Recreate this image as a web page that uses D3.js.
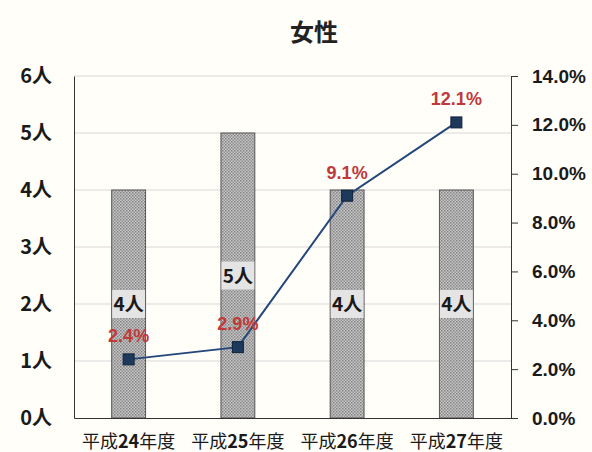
<!DOCTYPE html>
<html>
<head>
<meta charset="utf-8">
<script src="https://cdn.jsdelivr.net/npm/d3@7"></script>
<style>
  html, body { margin: 0; padding: 0; background: #fffef9; }
  svg { display: block; }
</style>
</head>
<body>
<script>
// Data: headcount (bars, left axis) and rate (line, right axis) by fiscal year
const years = ["24", "25", "26", "27"];
const people = [4, 5, 4, 4];
const rates = [2.4, 2.9, 9.1, 12.1];
const leftTicks = [0, 1, 2, 3, 4, 5, 6];
const rightTicks = [0, 2, 4, 6, 8, 10, 12, 14];
const title = "女性";

const W = 592, H = 452;
const m = { left: 74, right: 81, top: 76, bottom: 34 };

const svg = d3.select("body").append("svg")
  .attr("width", W).attr("height", H);

svg.append("rect").attr("width", W).attr("height", H).attr("fill", "#fffef9");

// dotted fill for the bars
const defs = svg.append("defs");
const pat = defs.append("pattern")
  .attr("id", "dots").attr("width", 3).attr("height", 3)
  .attr("patternUnits", "userSpaceOnUse");
pat.append("rect").attr("width", 3).attr("height", 3).attr("fill", "#c6c6c6");
pat.append("rect").attr("x", 0).attr("y", 0).attr("width", 1.5).attr("height", 1.5).attr("fill", "#848484");
pat.append("rect").attr("x", 1.5).attr("y", 1.5).attr("width", 1.5).attr("height", 1.5).attr("fill", "#939393");

const x = d3.scaleBand().domain(years)
  .range([m.left, W - m.right]).paddingInner(0.69).paddingOuter(0.345);
const yL = d3.scaleLinear().domain([0, 6]).range([H - m.bottom, m.top]);
const yR = d3.scaleLinear().domain([0, 14]).range([H - m.bottom, m.top]);

// title
svg.append("text")
  .attr("x", 314).attr("y", 41)
  .attr("text-anchor", "middle")
  .attr("font-family", "'Noto Sans CJK JP', sans-serif")
  .attr("font-size", 24).attr("font-weight", 600)
  .attr("fill", "#222")
  .text(title);

// horizontal gridlines
svg.append("g").selectAll("line")
  .data(leftTicks.filter(d => d > 0))
  .join("line")
  .attr("x1", m.left).attr("x2", W - m.right)
  .attr("y1", d => yL(d)).attr("y2", d => yL(d))
  .attr("stroke", "#d8d8d8").attr("stroke-width", 1);

// left axis
const gL = svg.append("g")
  .attr("transform", `translate(${m.left},0)`)
  .call(d3.axisLeft(yL).tickValues(leftTicks).tickSize(0).tickPadding(22)
    .tickFormat(d => d + "人"));
gL.select(".domain").attr("stroke", "#333");
gL.selectAll("text")
  .attr("font-family", "'Noto Sans CJK JP', sans-serif")
  .attr("font-size", 20).attr("font-weight", 700).attr("fill", "#1a1a1a");

// right axis
const gR = svg.append("g")
  .attr("transform", `translate(${W - m.right},0)`)
  .call(d3.axisRight(yR).tickValues(rightTicks).tickSize(7).tickPadding(14)
    .tickFormat(d => d.toFixed(1) + "%"));
gR.select(".domain").attr("stroke", "#333");
gR.selectAll(".tick line").attr("stroke", "#333");
gR.selectAll("text")
  .attr("font-family", "'Liberation Sans', sans-serif")
  .attr("font-size", 19).attr("font-weight", 700).attr("fill", "#1a1a1a");

// bars
svg.append("g").selectAll("rect")
  .data(years)
  .join("rect")
  .attr("x", d => x(d))
  .attr("y", (d, i) => yL(people[i]))
  .attr("width", x.bandwidth())
  .attr("height", (d, i) => yL(0) - yL(people[i]))
  .attr("fill", "url(#dots)")
  .attr("stroke", "#555").attr("stroke-width", 1);

// bottom axis
const gB = svg.append("g")
  .attr("transform", `translate(0,${H - m.bottom})`)
  .call(d3.axisBottom(x).tickSize(0).tickFormat(""));
gB.select(".domain").attr("stroke", "#333");

// category labels with bold digits
const cat = svg.append("g").selectAll("text")
  .data(years)
  .join("text")
  .attr("x", d => x(d) + x.bandwidth() / 2)
  .attr("y", 448)
  .attr("text-anchor", "middle")
  .attr("font-family", "'Noto Sans CJK JP', sans-serif")
  .attr("font-size", 18).attr("fill", "#1a1a1a");
cat.append("tspan").text("平成");
cat.append("tspan").attr("font-weight", 700).text(d => d);
cat.append("tspan").text("年度");

// bar value labels in boxes at mid-height
const lab = svg.append("g").selectAll("g")
  .data(years)
  .join("g")
  .attr("transform", (d, i) => `translate(${x(d) + x.bandwidth() / 2},${yL(people[i] / 2)})`);
lab.append("rect")
  .attr("x", -x.bandwidth() / 2 + 0.5).attr("y", -14)
  .attr("width", x.bandwidth() - 1).attr("height", 28)
  .attr("fill", "#e4e4e4");
lab.append("text")
  .attr("text-anchor", "middle").attr("y", 7)
  .attr("font-family", "'Noto Sans CJK JP', sans-serif")
  .attr("font-size", 19).attr("font-weight", 700).attr("fill", "#1a1a1a")
  .text((d, i) => people[i] + "人");

// rate line
const cx = d => x(d) + x.bandwidth() / 2;
svg.append("path")
  .datum(years)
  .attr("d", d3.line().x(cx).y((d, i) => yR(rates[i])))
  .attr("fill", "none").attr("stroke", "#24477a").attr("stroke-width", 2);

svg.append("g").selectAll("rect")
  .data(years)
  .join("rect")
  .attr("x", d => cx(d) - 5.5)
  .attr("y", (d, i) => yR(rates[i]) - 5.5)
  .attr("width", 11).attr("height", 11)
  .attr("fill", "#1d3a5c").attr("stroke", "#0f2238").attr("stroke-width", 1);

svg.append("g").selectAll("text")
  .data(years)
  .join("text")
  .attr("x", cx)
  .attr("y", (d, i) => yR(rates[i]) - 17)
  .attr("text-anchor", "middle")
  .attr("font-family", "'Liberation Sans', sans-serif")
  .attr("font-size", 18).attr("font-weight", 700).attr("fill", "#c0393b")
  .text((d, i) => rates[i].toFixed(1) + "%");
</script>
</body>
</html>
